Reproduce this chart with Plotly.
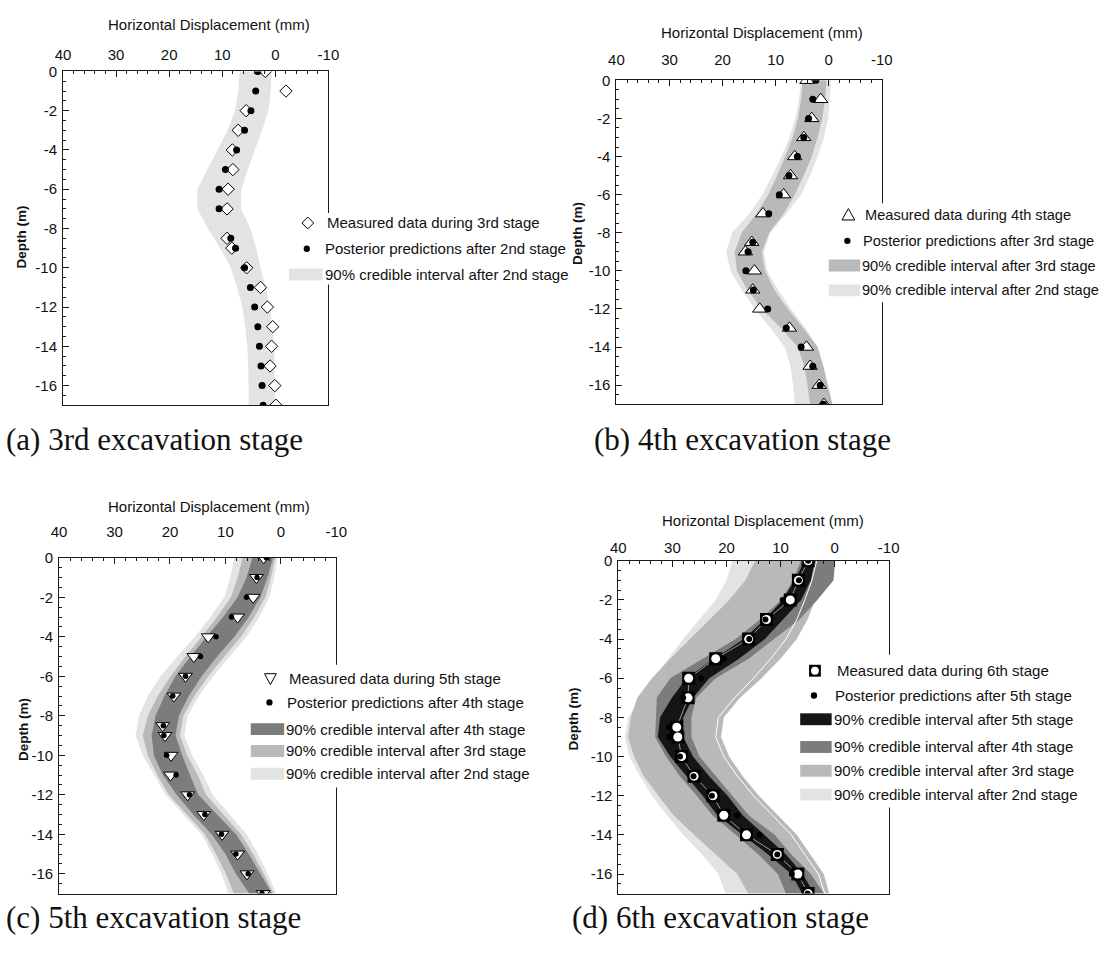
import plotly.graph_objects as go

# ---------------------------------------------------------------- data ----
DEPTH_PTS = [0, -1, -2, -3, -4, -5, -6, -7, -8.5, -9, -10, -11, -12, -13, -14, -15, -16, -17]
DEPTH_BAND = [0, -1, -2, -3, -4, -5, -6, -7, -8, -9, -10, -11, -12, -13, -14, -15, -16, -17]

X_TICKS = [40, 30, 20, 10, 0, -10]
X_TICK_TEXT = ["40", "30", "20", "10", "0", "-10"]
Y_TICKS = [0, -2, -4, -6, -8, -10, -12, -14, -16]
Y_TICK_TEXT = ["0", "-2", "-4", "-6", "-8", "-10", "-12", "-14", "-16"]

# (a) 3rd excavation stage
A_MEASURED = [1.9, -2.0, 5.5, 7.0, 8.1, 8.0, 8.9, 9.1, 9.1, 8.2, 5.4, 2.8, 1.5, 0.5, 0.7, 1.0, 0.1, -0.1]
A_POSTERIOR = [3.3, 3.7, 4.6, 5.8, 7.3, 9.4, 10.6, 10.6, 8.4, 7.5, 5.8, 4.7, 3.9, 3.3, 3.0, 2.7, 2.5, 2.3]
A_CI2_LO = [6.7, 7.0, 7.6, 9.0, 10.9, 12.8, 14.7, 14.7, 12.7, 10.4, 8.4, 7.2, 6.2, 5.7, 5.3, 5.1, 5.0, 5.0]
A_CI2_HI = [0.7, 0.9, 1.3, 2.5, 3.8, 5.2, 6.4, 6.5, 4.7, 3.6, 2.8, 1.8, 1.0, 0.6, 0.2, 0.1, 0.1, 0.1]

# (b) 4th excavation stage
B_MEASURED = [4.1, 1.5, 3.2, 4.7, 6.4, 7.2, 8.5, 12.4, 14.5, 15.7, 14.0, 14.3, 13.0, 7.4, 4.2, 3.5, 1.8, 0.9]
B_POSTERIOR = [2.4, 3.0, 3.8, 4.7, 5.9, 7.5, 9.3, 11.3, 14.3, 15.2, 15.6, 14.2, 11.5, 8.0, 5.2, 3.0, 1.6, 1.0]
B_CI3_LO = [4.9, 5.2, 5.8, 6.8, 8.2, 9.7, 11.4, 13.6, 16.4, 17.7, 17.3, 15.3, 12.6, 9.0, 5.8, 4.6, 4.0, 3.5]
B_CI3_HI = [0.4, 0.7, 1.2, 2.1, 3.2, 4.7, 6.4, 8.5, 11.2, 12.6, 12.0, 10.2, 7.7, 4.8, 2.1, 1.0, 0.2, -0.7]
B_CI2_LO = [5.2, 5.6, 6.3, 7.4, 8.9, 10.6, 12.5, 15.0, 18.2, 19.3, 18.5, 16.4, 13.9, 11.0, 8.3, 7.2, 6.7, 6.4]
B_CI2_HI = [-0.4, -0.2, 0.1, 0.9, 2.1, 3.5, 5.2, 8.0, 11.0, 12.2, 11.6, 9.5, 7.1, 4.4, 2.1, 1.0, 0.2, -0.4]

# (c) 5th excavation stage
C_MEASURED = [3.1, 4.4, 5.0, 7.8, 13.1, 15.7, 17.2, 19.3, 21.3, 20.9, 19.8, 19.9, 16.8, 13.9, 10.6, 7.8, 6.1, 3.2]
C_POSTERIOR = [2.6, 4.3, 6.2, 8.9, 11.7, 14.5, 17.2, 19.5, 21.2, 21.1, 20.6, 18.9, 16.5, 13.7, 10.7, 8.1, 5.9, 3.4]
C_CI4_LO = [5.1, 6.2, 7.8, 10.4, 13.4, 16.3, 19.0, 21.0, 22.6, 23.3, 22.9, 21.3, 18.8, 15.8, 12.5, 10.0, 8.1, 5.7]
C_CI4_HI = [1.4, 2.4, 3.7, 5.8, 8.4, 11.5, 14.3, 16.6, 18.4, 19.0, 17.8, 16.4, 14.9, 11.5, 8.1, 5.8, 3.7, 1.6]
C_CI3_LO = [6.9, 7.8, 9.0, 11.5, 14.3, 17.2, 19.9, 22.2, 24.0, 24.9, 24.0, 22.3, 20.2, 17.0, 13.7, 11.7, 9.9, 8.5]
C_CI3_HI = [1.0, 1.8, 2.8, 4.8, 7.2, 10.2, 13.1, 15.6, 17.6, 18.2, 16.9, 15.0, 13.5, 10.4, 7.2, 5.0, 3.1, 1.3]
C_CI2_LO = [8.4, 9.1, 10.2, 12.7, 15.5, 18.7, 21.7, 24.0, 25.6, 26.2, 24.9, 22.9, 20.8, 17.6, 14.3, 12.4, 10.7, 9.5]
C_CI2_HI = [0.6, 1.2, 2.1, 3.9, 6.2, 9.2, 12.2, 14.8, 16.8, 17.4, 16.0, 14.0, 12.3, 9.3, 6.2, 4.1, 2.4, 0.8]

# (d) 6th excavation stage
D_MEASURED = [4.9, 6.7, 8.2, 12.6, 15.9, 22.0, 27.0, 27.1, 29.2, 29.0, 28.3, 26.0, 22.5, 20.5, 16.3, 10.6, 6.8, 4.9]
D_POSTERIOR = [4.9, 6.6, 9.6, 12.8, 15.8, 20.5, 24.7, 28.0, 30.6, 30.6, 28.6, 26.1, 22.7, 18.0, 13.9, 10.6, 7.9, 5.0]
D_CI5_LO = [5.5, 7.4, 9.6, 12.9, 16.8, 22.3, 27.4, 30.1, 32.3, 32.7, 30.4, 27.4, 24.4, 21.7, 17.1, 12.3, 8.0, 6.0]
D_CI5_HI = [3.7, 4.4, 6.2, 9.6, 12.9, 17.7, 23.2, 26.2, 28.0, 28.0, 26.2, 23.2, 19.8, 17.0, 12.9, 9.0, 5.9, 3.8]
D_CI4_LO = [6.2, 7.7, 9.9, 13.8, 18.3, 24.4, 30.4, 32.9, 33.0, 33.2, 31.2, 28.6, 25.5, 22.6, 18.3, 14.1, 10.5, 9.0]
D_CI4_HI = [-0.1, 0.2, 3.2, 6.5, 11.1, 15.9, 22.0, 25.6, 26.5, 26.5, 25.0, 22.0, 18.9, 15.9, 11.1, 8.0, 4.4, 2.0]
D_CI3_LO = [14.7, 16.5, 19.5, 23.2, 26.8, 30.4, 33.8, 36.5, 37.7, 38.2, 37.1, 35.3, 32.6, 29.8, 26.0, 22.0, 18.0, 16.0]
D_CI3_HI = [2.0, 2.6, 3.6, 5.0, 7.0, 10.0, 13.5, 17.5, 20.5, 21.0, 19.5, 17.0, 14.0, 10.5, 7.0, 4.5, 2.0, 1.0]
D_CI2_LO = [18.9, 20.0, 22.0, 25.0, 28.0, 30.8, 33.5, 36.0, 38.2, 38.8, 38.0, 36.0, 33.8, 31.0, 28.0, 24.5, 21.5, 20.2]
D_CI2_HI = [3.3, 4.2, 5.5, 7.0, 9.0, 11.8, 15.0, 18.5, 21.5, 22.0, 20.5, 18.0, 15.0, 11.5, 8.0, 5.5, 3.0, 1.8]

# ---------------------------------------------------------- geometry ----
W, H = 1110, 957
FONT = "Liberation Sans"
SERIF = "Liberation Serif"
AXIS_COLOR = "#1a1a1a"
LIGHT, MEDIUM, DARK, BLACK = "#e3e3e3", "#b9b9b9", "#7c7c7c", "#151515"


def fx(p):
    return p / W


def fy(p):
    return 1 - p / H


# plot boxes in pixels: left, right, top, bottom
BOXES = {
    1: (56, 326, 63, 400),
    2: (619, 889, 72, 399),
    3: (52, 334, 554, 893),
    4: (621, 896, 557, 893),
}
X_STANDOFF = {1: 4, 2: 8, 3: 14, 4: 1}

fig = go.Figure()


def band(n, lo, hi, color):
    fig.add_trace(go.Scatter(
        x=list(lo) + list(hi)[::-1], y=DEPTH_BAND + DEPTH_BAND[::-1],
        mode="lines", fill="toself", fillcolor=color, line=dict(width=0),
        xaxis=f"x{n}", yaxis=f"y{n}", showlegend=False, hoverinfo="skip"))


def points(n, xs, symbol, size, color, line_color=None, line_width=0):
    fig.add_trace(go.Scatter(
        x=xs, y=DEPTH_PTS, mode="markers",
        marker=dict(symbol=symbol, size=size, color=color,
                    line=dict(color=line_color or color, width=line_width)),
        xaxis=f"x{n}", yaxis=f"y{n}", showlegend=False))


# (a)
band(1, A_CI2_LO, A_CI2_HI, LIGHT)
points(1, A_MEASURED, "diamond", 9.5, "white", "black", 1)
points(1, A_POSTERIOR, "circle", 7, "black")

# (b)
band(2, B_CI2_LO, B_CI2_HI, LIGHT)
band(2, B_CI3_LO, B_CI3_HI, MEDIUM)
points(2, B_MEASURED, "triangle-up", 12.5, "white", "black", 1)
points(2, B_POSTERIOR, "circle", 7, "black")

# (c)
band(3, C_CI2_LO, C_CI2_HI, LIGHT)
band(3, C_CI3_LO, C_CI3_HI, MEDIUM)
band(3, C_CI4_LO, C_CI4_HI, DARK)
points(3, C_MEASURED, "triangle-down", 12, "white", "black", 1)
points(3, C_POSTERIOR, "circle", 5.5, "black")

# (d)
band(4, D_CI2_LO, D_CI2_HI, LIGHT)
band(4, D_CI3_LO, D_CI3_HI, MEDIUM)
band(4, D_CI4_LO, D_CI4_HI, DARK)
# outline of the 2nd-stage interval on the shallow side
fig.add_trace(go.Scatter(x=D_CI2_HI, y=DEPTH_BAND, mode="lines",
                         line=dict(color="white", width=1),
                         xaxis="x4", yaxis="y4", showlegend=False, hoverinfo="skip"))
band(4, D_CI5_LO, D_CI5_HI, BLACK)
fig.add_trace(go.Scatter(x=D_MEASURED, y=DEPTH_PTS, mode="lines",
                         line=dict(color="#9a9a9a", width=1),
                         xaxis="x4", yaxis="y4", showlegend=False, hoverinfo="skip"))
points(4, D_MEASURED, "square", 13, "black")
points(4, D_MEASURED, "circle", 9, "white")
points(4, D_POSTERIOR, "circle", 6, "black")

# ---------------------------------------------------------------- axes ----
for n, (l, r, t, b) in BOXES.items():
    tickfont = dict(family=FONT, size=15, color="#111")
    xa = dict(
        domain=[fx(l), fx(r)], range=[40, -10], side="top", anchor=f"y{n}",
        tickmode="array", tickvals=X_TICKS, ticktext=X_TICK_TEXT,
        ticks="inside", ticklen=6, tickwidth=1, tickcolor=AXIS_COLOR,
        minor=dict(tickmode="linear", tick0=0, dtick=2, ticks="inside",
                   ticklen=3, tickwidth=1, tickcolor=AXIS_COLOR),
        showline=True, mirror=True, linecolor=AXIS_COLOR, linewidth=1,
        showgrid=False, zeroline=False, tickfont=tickfont,
        ticklabelstandoff=X_STANDOFF[n], fixedrange=True)
    ya = dict(
        domain=[fy(b), fy(t)], range=[-17, 0], anchor=f"x{n}",
        tickmode="array", tickvals=Y_TICKS, ticktext=Y_TICK_TEXT,
        ticks="inside", ticklen=6, tickwidth=1, tickcolor=AXIS_COLOR,
        minor=dict(tickmode="linear", tick0=0, dtick=0.5, ticks="inside",
                   ticklen=3, tickwidth=1, tickcolor=AXIS_COLOR),
        showline=True, mirror=True, linecolor=AXIS_COLOR, linewidth=1,
        showgrid=False, zeroline=False, tickfont=tickfont,
        ticklabelstandoff=2, fixedrange=True)
    key = "" if n == 1 else str(n)
    fig.layout[f"xaxis{key}"] = xa
    fig.layout[f"yaxis{key}"] = ya

# ------------------------------------------------------- titles / text ----
annotations = []
shapes = []


def text(x, y, s, size=15, anchor="left", family=FONT, angle=0, bold=False):
    annotations.append(dict(
        x=fx(x), y=fy(y), xref="paper", yref="paper", text=f"<b>{s}</b>" if bold else s,
        showarrow=False, xanchor=anchor, yanchor="middle", textangle=angle,
        borderpad=0, font=dict(family=family, size=size, color="#111")))


for (cx, cy) in [(205, 16), (767, 24), (205, 502), (768, 516)]:
    text(cx, cy, "Horizontal Displacement (mm)", size=15, anchor="center")
for (cx, cy) in [(14, 230), (580, 227), (15, 727), (575, 717)]:
    text(cx, cy, "Depth (m)", size=13.5, anchor="center", angle=-90, bold=True)

text(-3, 435, "(a) 3rd excavation stage", size=31, family=SERIF)
text(595, 435, "(b) 4th excavation stage", size=31, family=SERIF)
text(-3, 917, "(c) 5th excavation stage", size=31, family=SERIF)
text(573, 917, "(d) 6th excavation stage", size=31, family=SERIF)


# ----------------------------------------------------------- legends ----
def rect(x0, y0, x1, y1, color):
    shapes.append(dict(type="rect", xref="paper", yref="paper", layer="above",
                       x0=fx(x0), x1=fx(x1), y0=fy(y1), y1=fy(y0),
                       fillcolor=color, line=dict(width=0)))


def path(pts, fill, line="black", lw=1):
    d = "M" + " L".join(f"{fx(x):.5f},{fy(y):.5f}" for x, y in pts) + " Z"
    shapes.append(dict(type="path", xref="paper", yref="paper", layer="above",
                       path=d, fillcolor=fill, line=dict(color=line, width=lw)))


def disc(cx, cy, r, fill):
    shapes.append(dict(type="circle", xref="paper", yref="paper", layer="above",
                       x0=fx(cx - r), x1=fx(cx + r), y0=fy(cy + r), y1=fy(cy - r),
                       fillcolor=fill, line=dict(width=0)))


def key(kind, cx, cy):
    if kind == "diamond":
        path([(cx, cy - 6), (cx + 6, cy), (cx, cy + 6), (cx - 6, cy)], "white")
    elif kind == "tri-up":
        path([(cx, cy - 6.5), (cx + 6.5, cy + 5), (cx - 6.5, cy + 5)], "white")
    elif kind == "tri-down":
        path([(cx, cy + 6), (cx + 6, cy - 5), (cx - 6, cy - 5)], "white")
    elif kind == "dot":
        disc(cx, cy, 3.2, "black")
    elif kind == "square":
        rect(cx - 6, cy - 6, cx + 6, cy + 6, "black")
        disc(cx, cy, 4, "white")


LEGENDS = [
    # white box, symbol x, band x-range, text x, font size, rows
    dict(box=(284, 206, 545, 278), sx=305, bx=(286, 320), tx=321, fs=15,
         rows=[("diamond", 216, "Measured data during 3rd stage"),
               ("dot", 242, "Posterior predictions after 2nd stage"),
               (LIGHT, 268, "90% credible interval after 2nd stage")]),
    dict(box=(828, 196, 1110, 296), sx=855, bx=(835, 867), tx=868, fs=14.6,
         rows=[("tri-up", 208, "Measured data during 4th stage"),
               ("dot", 234, "Posterior predictions after 3rd stage"),
               (MEDIUM, 259, "90% credible interval after 3rd stage"),
               (LIGHT, 284, "90% credible interval after 2nd stage")]),
    dict(box=(240, 662, 548, 786), sx=267, bx=(247, 281), tx=282, fs=15,
         rows=[("tri-down", 676, "Measured data during 5th stage"),
               ("dot", 700, "Posterior predictions after 4th stage"),
               (DARK, 727, "90% credible interval after 4th stage"),
               (MEDIUM, 749, "90% credible interval after 3rd stage"),
               (LIGHT, 772, "90% credible interval after 2nd stage")]),
    dict(box=(800, 652, 1110, 806), sx=821, bx=(806, 838), tx=839, fs=15,
         rows=[("square", 668, "Measured data during 6th stage"),
               ("dot", 693, "Posterior predictions after 5th stage"),
               (BLACK, 717, "90% credible interval after 5th stage"),
               (DARK, 745, "90% credible interval after 4th stage"),
               (MEDIUM, 769, "90% credible interval after 3rd stage"),
               (LIGHT, 793, "90% credible interval after 2nd stage")]),
]

for lg in LEGENDS:
    x0, y0, x1, y1 = lg["box"]
    rect(x0, y0, x1, y1, "white")
    for kind, y, label in lg["rows"]:
        if kind.startswith("#"):
            rect(lg["bx"][0], y - 6, lg["bx"][1], y + 6, kind)
            text(lg["tx"], y, label, size=lg["fs"])
        else:
            key(kind, lg["sx"] - (1 if kind == "dot" else 0), y)
            text(lg["tx"] + (1 if kind == "dot" else 3), y, label, size=lg["fs"])

fig.update_layout(
    width=W, height=H, margin=dict(l=0, r=0, t=0, b=0),
    paper_bgcolor="white", plot_bgcolor="white",
    font=dict(family=FONT, size=13, color="#111"),
    showlegend=False, annotations=annotations, shapes=shapes,
)

fig.write_html("out.html")
